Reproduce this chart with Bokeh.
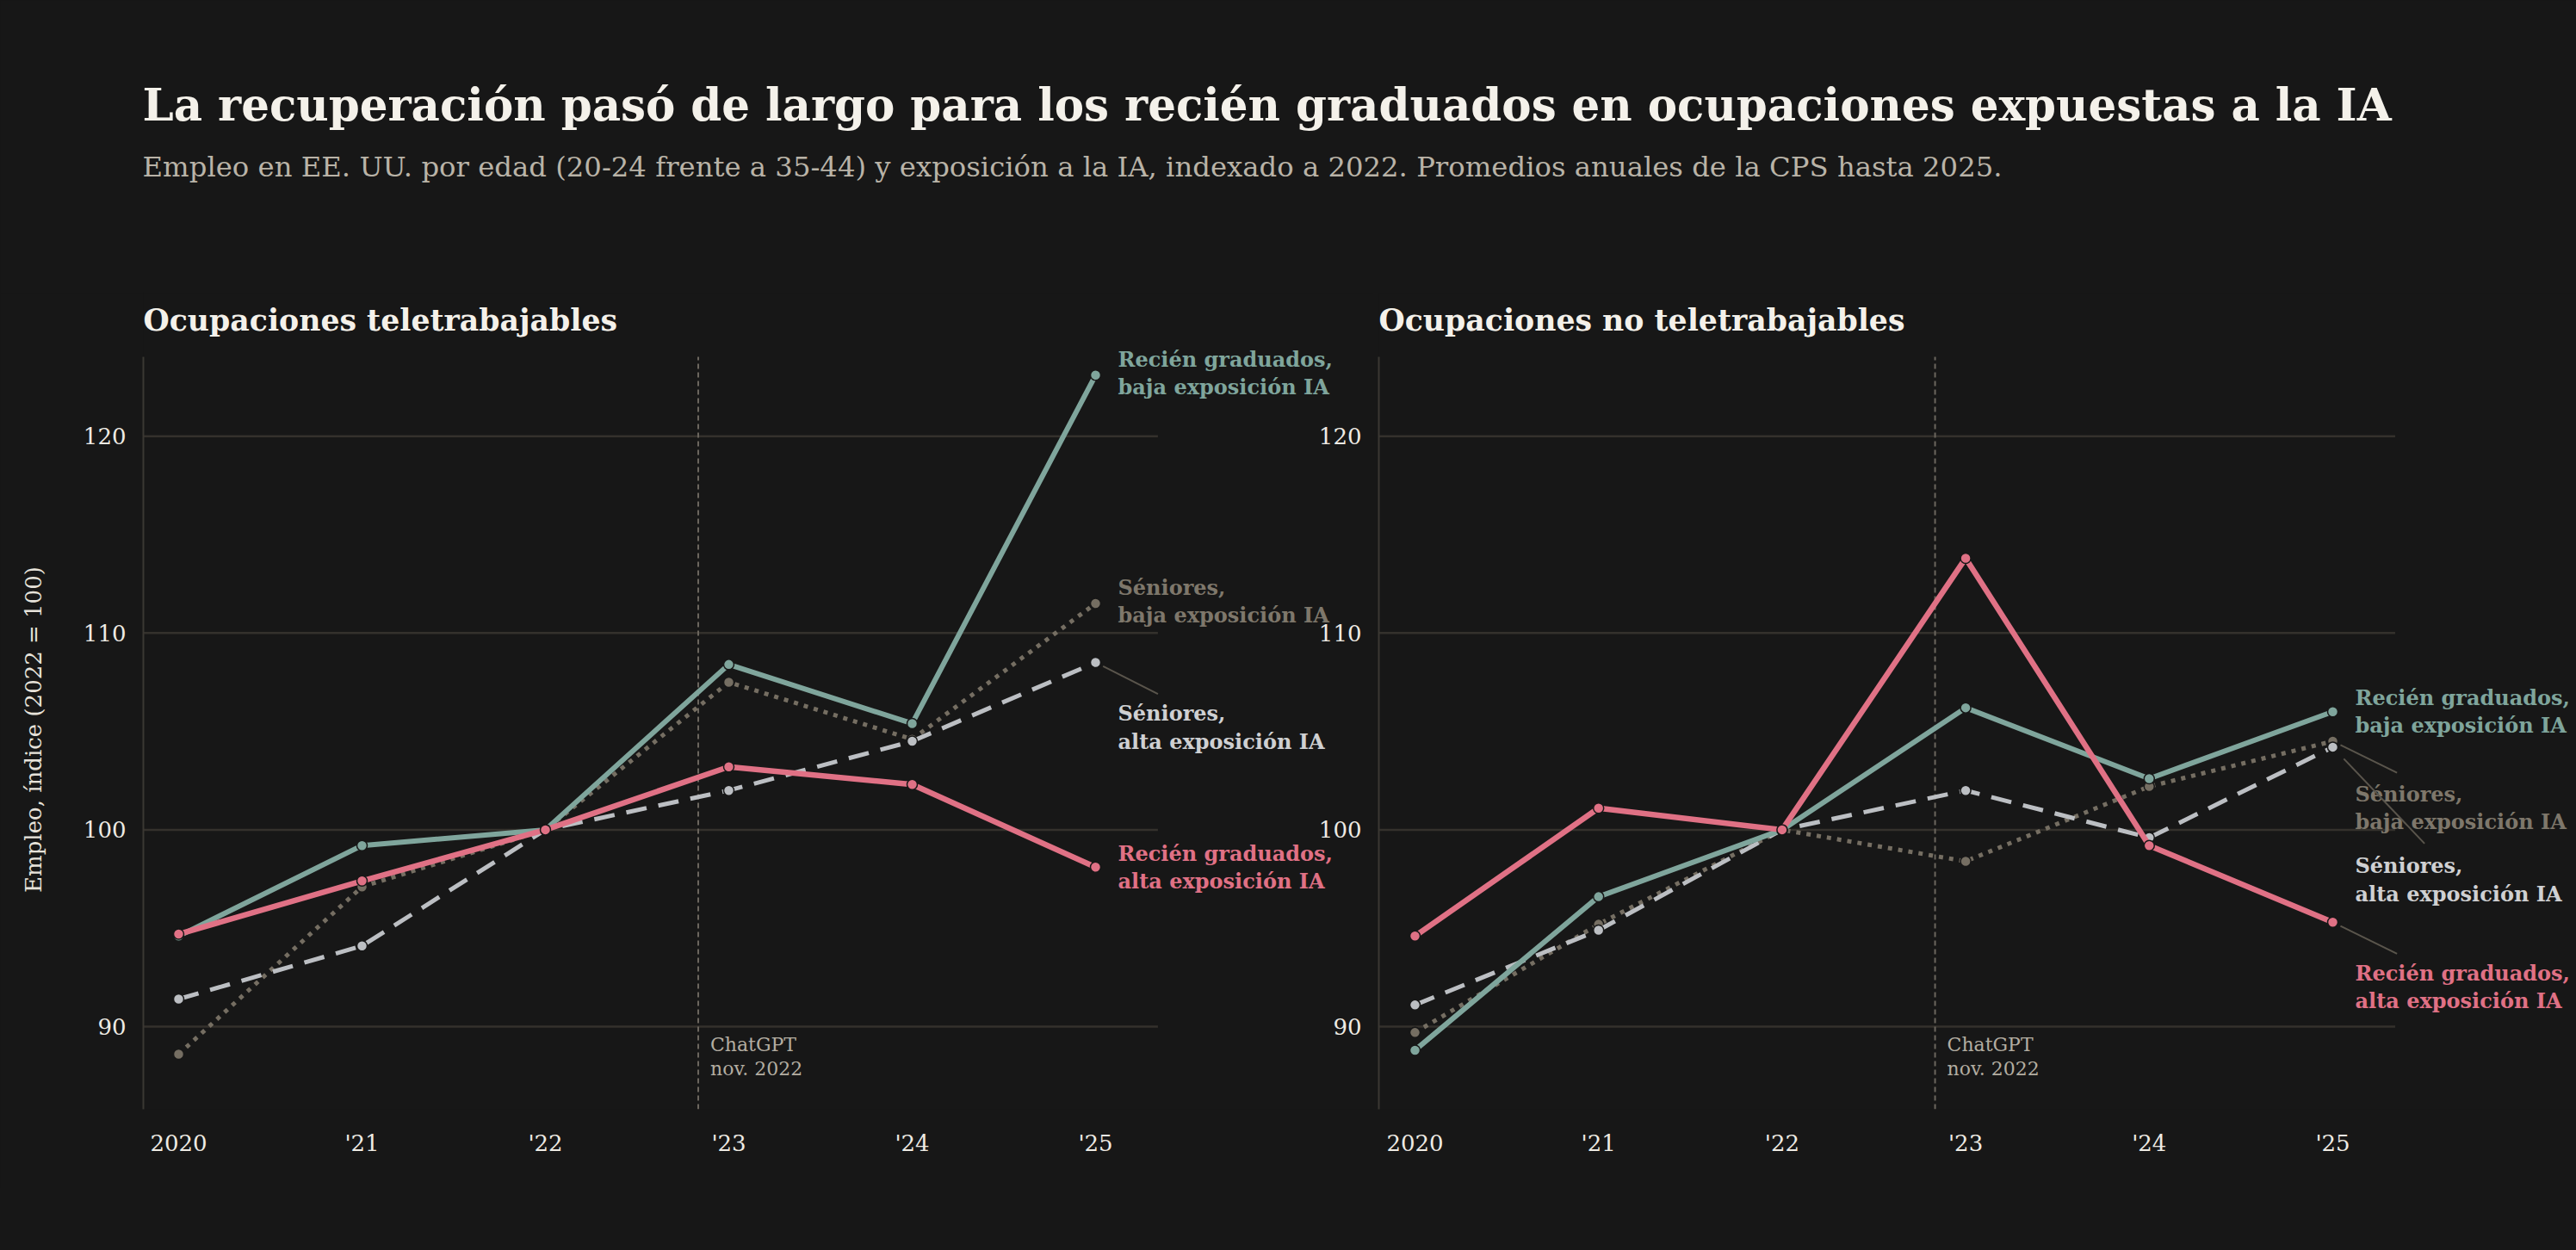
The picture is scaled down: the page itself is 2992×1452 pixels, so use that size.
from bokeh.plotting import figure
from bokeh.models import Range1d, FixedTicker
from bokeh.layouts import column, row
from bokeh.embed import file_html
from bokeh.resources import INLINE
from bokeh.core.properties import value

# ---------------- data ----------------
years = [2020, 2021, 2022, 2023, 2024, 2025]
year_labels = ["2020", "'21", "'22", "'23", "'24", "'25"]
y_ticks = [90, 100, 110, 120]
chatgpt_x = 2022 + 10 / 12  # nov. 2022

# Ocupaciones teletrabajables
tele_grad_low = [94.6, 99.2, 100.0, 108.4, 105.4, 123.1]
tele_grad_high = [94.7, 97.4, 100.0, 103.2, 102.3, 98.1]
tele_sen_high = [91.4, 94.1, 100.0, 102.0, 104.5, 108.5]
tele_sen_low = [88.6, 97.1, 100.0, 107.5, 104.6, 111.5]

# Ocupaciones no teletrabajables
non_grad_low = [88.8, 96.6, 100.0, 106.2, 102.6, 106.0]
non_grad_high = [94.6, 101.1, 100.0, 113.8, 99.2, 95.3]
non_sen_high = [91.1, 94.9, 100.0, 102.0, 99.6, 104.2]
non_sen_low = [89.7, 95.2, 100.0, 98.4, 102.2, 104.5]

series_names = ["sen_low", "sen_high", "grad_low", "grad_high"]
series_labels = {
    "grad_low": "Recién graduados,\nbaja exposición IA",
    "sen_low": "Séniores,\nbaja exposición IA",
    "sen_high": "Séniores,\nalta exposición IA",
    "grad_high": "Recién graduados,\nalta exposición IA",
}

TITLE = "La recuperación pasó de largo para los recién graduados en ocupaciones expuestas a la IA"
SUBTITLE = ("Empleo en EE. UU. por edad (20-24 frente a 35-44) y exposición a la IA, "
            "indexado a 2022. Promedios anuales de la CPS hasta 2025.")
PANEL_TITLES = ["Ocupaciones teletrabajables", "Ocupaciones no teletrabajables"]
Y_LABEL = "Empleo, índice (2022 = 100)"
CHATGPT_TEXT = "ChatGPT\nnov. 2022"

# ---------------- style ----------------
BG = "#171717"
FONT = "DejaVu Serif"
TEAL = "#7fa59c"
PINK = "#e07185"
LIGHT = "#bcbfc3"
DOT = "#756e62"
GRID = "#34312c"
AXIS = "#3b3833"
TICK_TXT = "#eeebe4"
LEADER = "#5a554c"

styles = {
    "grad_low": dict(color=TEAL, width=6, dash="solid", label_color=TEAL),
    "grad_high": dict(color=PINK, width=6.5, dash="solid", label_color=PINK),
    "sen_high": dict(color=LIGHT, width=5, dash="24 14", label_color="#cfd0d2"),
    "sen_low": dict(color=DOT, width=5, dash="5 7", label_color="#7e776b"),
}

# label placement (y of label block, optional leader end point)
tele_labels = {
    "grad_low": (123.2, None),
    "sen_low": (111.6, None),
    "sen_high": (105.2, (2025.34, 106.9)),
    "grad_high": (98.1, None),
}
non_labels = {
    "grad_low": (106.0, None),
    "sen_low": (101.1, (2025.35, 102.9)),
    "sen_high": (97.45, (2025.5, 99.3)),
    "grad_high": (92.0, (2025.35, 93.7)),
}

Y_LO, Y_AXIS_HI = 85.8, 124.03
PX_PER_Y = 22.86
TICK_FS = "26px"
PANEL_TITLE_Y = 125.9
# trailing non-breaking spaces keep the rotated axis title centred on the plotted axis span
Y_LABEL_PAD = "\u00a0" * 8


def make_panel(data, labels, title, width, left_border, px_per_year, first_px, ylabel, margin=None):
    height = 1040
    bottom_border = 92
    frame_w = width - left_border
    frame_h = height - bottom_border
    x0 = 2020 - first_px / px_per_year
    x1 = x0 + frame_w / px_per_year
    y1 = Y_LO + frame_h / PX_PER_Y
    kw = {}
    if margin is not None:
        kw["margin"] = margin
    p = figure(width=width, height=height, x_range=Range1d(x0, x1), y_range=Range1d(Y_LO, y1),
               toolbar_location=None, output_backend="svg", min_border_left=left_border,
               min_border_right=0, min_border_top=0, min_border_bottom=bottom_border, **kw)
    p.background_fill_color = BG
    p.border_fill_color = BG
    if margin is not None:
        p.border_fill_alpha = 0
    p.outline_line_color = None
    p.grid.visible = False

    # panel title
    p.text(x=[x0], y=[PANEL_TITLE_Y], text=[title], text_font=value(FONT),
           text_font_style="bold", text_font_size="34.7px", text_color="#f4f1ea",
           text_baseline="alphabetic", text_align="left")

    grid_end = years[-1] + 0.34
    p.segment(x0=[x0] * len(y_ticks), y0=y_ticks, x1=[grid_end] * len(y_ticks), y1=y_ticks,
              line_color=GRID, line_width=2.5)

    # ChatGPT marker line
    p.segment(x0=[chatgpt_x], y0=[Y_LO], x1=[chatgpt_x], y1=[Y_AXIS_HI],
              line_color="#6b665e", line_width=2, line_dash="6 4")
    p.text(x=[chatgpt_x], y=[89.62], text=[CHATGPT_TEXT], x_offset=14,
           text_font=value(FONT), text_font_size="22px", text_color="#b3ada1",
           text_baseline="top", text_align="left", text_line_height=1.1)

    for name in series_names:
        st = styles[name]
        vals = data[name]
        p.line(years, vals, line_color=st["color"], line_width=st["width"], line_dash=st["dash"],
               line_join="round")
        p.scatter(years, vals, size=12, fill_color=st["color"], line_color=BG, line_width=1.5)

    for name in series_names:
        st = styles[name]
        vals = data[name]
        ly, leader = labels[name]
        if leader is not None:
            ex, ey = leader
            f = 0.12
            sx = years[-1] + (ex - years[-1]) * f
            sy = vals[-1] + (ey - vals[-1]) * f
            p.segment(x0=[sx], y0=[sy], x1=[ex], y1=[ey], line_color=LEADER, line_width=2)
        p.text(x=[years[-1]], y=[ly], text=[series_labels[name]], x_offset=26,
               text_font=value(FONT), text_font_style="bold", text_font_size="24px",
               text_color=st["label_color"], text_baseline="middle", text_align="left",
               text_line_height=1.12)

    # axes
    p.xaxis.ticker = FixedTicker(ticks=years)
    p.xaxis.major_label_overrides = {y: l for y, l in zip(years, year_labels)}
    p.xaxis.axis_line_color = None
    p.xaxis.major_tick_line_color = None
    p.xaxis.minor_tick_line_color = None
    p.xaxis.major_tick_out = 0
    p.xaxis.major_tick_in = 0
    p.xaxis.major_label_standoff = 24
    p.xaxis.major_label_text_font = FONT
    p.xaxis.major_label_text_font_size = TICK_FS
    p.xaxis.major_label_text_color = TICK_TXT

    p.yaxis.ticker = FixedTicker(ticks=y_ticks)
    p.yaxis.bounds = (Y_LO, Y_AXIS_HI)
    p.yaxis.axis_line_color = AXIS
    p.yaxis.axis_line_width = 2
    p.yaxis.major_tick_line_color = None
    p.yaxis.minor_tick_line_color = None
    p.yaxis.major_tick_out = 0
    p.yaxis.major_tick_in = 0
    p.yaxis.major_label_standoff = 20
    p.yaxis.major_label_text_font = FONT
    p.yaxis.major_label_text_font_size = TICK_FS
    p.yaxis.major_label_text_color = TICK_TXT
    if ylabel:
        p.yaxis.axis_label = ylabel + Y_LABEL_PAD
        p.yaxis.axis_label_text_font = FONT
        p.yaxis.axis_label_text_font_style = "normal"
        p.yaxis.axis_label_text_font_size = "26px"
        p.yaxis.axis_label_text_color = "#e6e2da"
        p.yaxis.axis_label_standoff = 40
    return p


tele = dict(grad_low=tele_grad_low, grad_high=tele_grad_high, sen_high=tele_sen_high, sen_low=tele_sen_low)
non = dict(grad_low=non_grad_low, grad_high=non_grad_high, sen_high=non_sen_high, sen_low=non_sen_low)

left = make_panel(tele, tele_labels, PANEL_TITLES[0], width=1595, left_border=166,
                  px_per_year=213.0, first_px=41, ylabel=Y_LABEL)
right = make_panel(non, non_labels, PANEL_TITLES[1], width=1467, left_border=76,
                   px_per_year=213.2, first_px=42, ylabel=None, margin=(0, 0, 0, -70))

# header with title and subtitle
HW, HH = 2992, 340
header = figure(width=HW, height=HH, x_range=Range1d(0, HW), y_range=Range1d(HH, 0),
                toolbar_location=None, output_backend="svg", min_border=0)
header.background_fill_color = BG
header.border_fill_color = BG
header.outline_line_color = None
header.axis.visible = False
header.grid.visible = False
header.text(x=[165], y=[121], text=[TITLE], text_font=value(FONT), text_font_style="bold",
            text_font_size="51.5px", text_color="#f4f1ea", text_baseline="alphabetic")
header.text(x=[165], y=[193], text=[SUBTITLE], text_font=value(FONT),
            text_font_size="32.3px", text_color="#b9b3a7", text_baseline="alphabetic")

root = column(header, row(left, right))
root.styles = {"background-color": BG, "box-shadow": "0 0 0 3000px " + BG}

open("out.html", "w").write(file_html(root, INLINE))
